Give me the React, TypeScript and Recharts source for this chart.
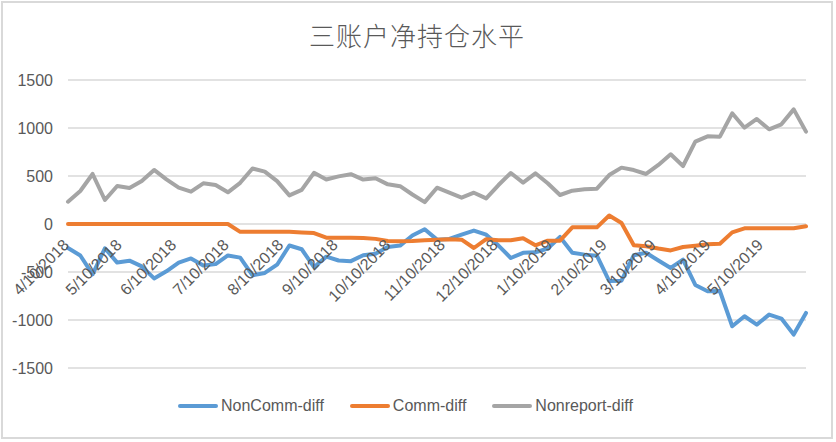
import React from 'react';
import { LineChart, Line, XAxis, YAxis, CartesianGrid, Legend } from 'recharts';

// weekly report dates (Tuesdays)
const weeks = [
  '2018-04-10', '2018-04-17', '2018-04-24', '2018-05-01', '2018-05-08', '2018-05-15', '2018-05-22', '2018-05-29',
  '2018-06-05', '2018-06-12', '2018-06-19', '2018-06-26', '2018-07-03', '2018-07-10', '2018-07-17', '2018-07-24',
  '2018-07-31', '2018-08-07', '2018-08-14', '2018-08-21', '2018-08-28', '2018-09-04', '2018-09-11', '2018-09-18',
  '2018-09-25', '2018-10-02', '2018-10-09', '2018-10-16', '2018-10-23', '2018-10-30', '2018-11-06', '2018-11-13',
  '2018-11-20', '2018-11-27', '2018-12-04', '2018-12-11', '2018-12-18', '2018-12-25', '2019-01-01', '2019-01-08',
  '2019-01-15', '2019-01-22', '2019-01-29', '2019-02-05', '2019-02-12', '2019-02-19', '2019-02-26', '2019-03-05',
  '2019-03-12', '2019-03-19', '2019-03-26', '2019-04-02', '2019-04-09', '2019-04-16', '2019-04-23', '2019-04-30',
  '2019-05-07', '2019-05-14', '2019-05-21', '2019-05-28', '2019-06-04',
];

const nonCommDiff = [
  -250, -328, -525, -253, -402, -382, -441, -567, -493, -402,
  -359, -432, -418, -328, -350, -535, -510, -424, -224, -263,
  -450, -340, -380, -387, -325, -310, -240, -225, -120, -55,
  -163, -156, -111, -68, -111, -225, -354, -300, -295, -255,
  -135, -300, -319, -330, -595, -590, -325, -300, -380, -458,
  -371, -635, -700, -698, -1065, -961, -1048, -944, -985, -1152,
  -926,
];

const commDiff = [
  0, 0, 0, 0, 0, 0, 0, 0, 0, 0,
  0, 0, 0, 0, -82, -82, -82, -82, -82, -88,
  -95, -143, -143, -143, -145, -155, -178, -180, -178, -170,
  -165, -158, -163, -250, -158, -170, -170, -148, -222, -174,
  -174, -35, -35, -35, 88, 10, -222, -232, -255, -275,
  -240, -226, -212, -205, -87, -45, -45, -45, -45, -45,
  -24,
];

const nonreportDiff = [
  232, 344, 521, 250, 396, 375, 448, 563, 465, 378,
  337, 424, 406, 330, 429, 578, 545, 446, 298, 355,
  533, 463, 496, 519, 463, 477, 413, 394, 307, 228,
  378, 326, 274, 326, 267, 406, 531, 431, 528, 424,
  302, 347, 361, 368, 510, 587, 562, 521, 615, 726,
  604, 858, 913, 910, 1153, 1003, 1094, 986, 1038, 1194,
  962,
];

const monthTicks = [
  '2018-04-10', '2018-05-10', '2018-06-10', '2018-07-10', '2018-08-10', '2018-09-10', '2018-10-10',
  '2018-11-10', '2018-12-10', '2019-01-10', '2019-02-10', '2019-03-10', '2019-04-10', '2019-05-10',
];

const yTicks = [-1500, -1000, -500, 0, 500, 1000, 1500];

const series = [
  { key: 'nonComm', name: 'NonComm-diff', color: '#5B9BD5' },
  { key: 'comm', name: 'Comm-diff', color: '#ED7D31' },
  { key: 'nonReport', name: 'Nonreport-diff', color: '#A5A5A5' },
];

const FONT = '"Liberation Sans", Arial, sans-serif';
const TEXT = '#595959';
const TOP = 80;
const PLOT_H = 288;

const toTime = (s: string) => {
  const [y, m, d] = s.split('-').map(Number);
  return Date.UTC(y, m - 1, d);
};

const data = weeks.map((w, i) => ({
  t: toTime(w),
  nonComm: nonCommDiff[i],
  comm: commDiff[i],
  nonReport: nonreportDiff[i],
}));

// category labels sit on the zero line, like Excel does
const DateTick = (props: any) => {
  const { x, payload } = props;
  const d = new Date(payload.value);
  const label = `${d.getUTCMonth() + 1}/${d.getUTCDate()}/${d.getUTCFullYear()}`;
  const tx = x + 2;
  const ty = TOP + PLOT_H / 2 + 22;
  return (
    <text
      x={tx}
      y={ty}
      transform={`rotate(-45, ${tx}, ${ty})`}
      textAnchor="end"
      fill={TEXT}
      fontSize={16}
      fontFamily={FONT}
    >
      {label}
    </text>
  );
};

const renderLegend = () => (
  <div style={{ display: 'flex', alignItems: 'center', fontFamily: FONT, fontSize: 16, color: TEXT, whiteSpace: 'nowrap' }}>
    {series.map((s) => (
      <div key={s.key} style={{ display: 'flex', alignItems: 'center', marginRight: 26 }}>
        <span style={{ display: 'inline-block', width: 40, height: 4, borderRadius: 2, background: s.color, marginRight: 3 }} />
        <span>{s.name}</span>
      </div>
    ))}
  </div>
);

export default function App() {
  return (
    <div style={{ position: 'absolute', left: 0, top: 0, width: 836, height: 442, background: '#fff' }}>
      <div
        style={{
          position: 'absolute',
          left: 0,
          width: 834,
          top: 22,
          textAlign: 'center',
          fontFamily: '"Noto Sans CJK SC", sans-serif',
          fontWeight: 300,
          fontSize: 26,
          lineHeight: '26px',
          color: TEXT,
          letterSpacing: 1,
        }}
      >
        三账户净持仓水平
      </div>
      <LineChart width={836} height={442} data={data} margin={{ top: TOP, right: 30, left: 0, bottom: 0 }}>
        <CartesianGrid vertical={false} stroke="#d9d9d9" strokeWidth={1.5} />
        <XAxis
          dataKey="t"
          type="number"
          domain={[data[0].t, data[data.length - 1].t]}
          ticks={monthTicks.map(toTime)}
          interval={0}
          tick={(p: any) => <DateTick {...p} />}
          axisLine={false}
          tickLine={false}
          height={74}
        />
        <YAxis
          domain={[-1500, 1500]}
          ticks={yTicks}
          interval={0}
          axisLine={false}
          tickLine={false}
          tickSize={0}
          tickMargin={15}
          width={68}
          tick={{ fill: TEXT, fontSize: 16, fontFamily: FONT }}
        />
        <Legend
          layout="vertical"
          align="center"
          verticalAlign="middle"
          content={renderLegend}
          wrapperStyle={{ position: 'absolute', left: 178, top: 397, width: 'auto' }}
        />
        {series.map((s) => (
          <Line
            key={s.key}
            type="linear"
            dataKey={s.key}
            name={s.name}
            stroke={s.color}
            strokeWidth={4}
            dot={false}
            isAnimationActive={false}
            strokeLinejoin="round"
            strokeLinecap="round"
          />
        ))}
      </LineChart>
      <div
        style={{
          position: 'absolute',
          left: 1,
          top: 1,
          width: 832,
          height: 438,
          border: '2px solid #d9d9d9',
          boxSizing: 'border-box',
          pointerEvents: 'none',
        }}
      />
    </div>
  );
}
